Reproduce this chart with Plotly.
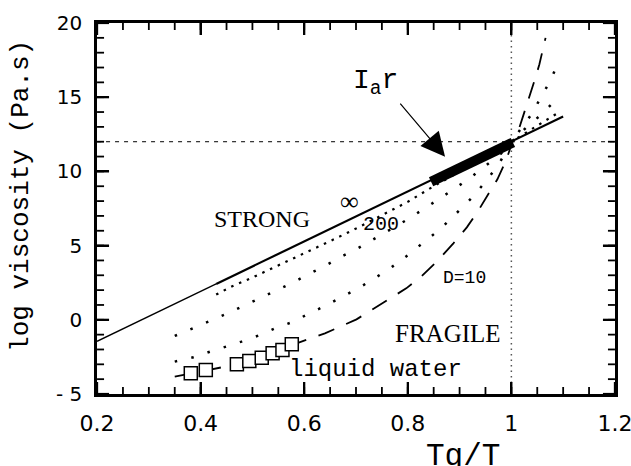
import plotly.graph_objects as go

# ---------------- data ----------------
strong_x = [0.2, 0.43, 1.1]
strong_y = [-1.45, 2.42, 13.7]

band_x = [0.845, 1.003]
band_y = [9.3, 11.95]

d200_x = [0.43, 0.46, 0.50, 0.55, 0.60, 0.65, 0.70, 0.75, 0.80, 0.85, 0.90, 0.95, 1.00, 1.04, 1.088]
d200_y = [1.7, 2.25, 2.85, 3.65, 4.45, 5.3, 6.15, 7.05, 7.95, 9.0, 9.98, 10.97, 12.0, 12.85, 13.9]

dmid_x = [0.35, 0.386, 0.418, 0.45, 0.479, 0.511, 0.544, 0.578, 0.605, 0.64, 0.669, 0.704, 0.733,
          0.766, 0.798, 0.83, 0.861, 0.893, 0.925, 0.955, 0.98, 1.0, 1.03, 1.06, 1.088]
dmid_y = [-1.09, -0.57, -0.08, 0.4, 0.88, 1.38, 1.94, 2.5, 3.02, 3.63, 4.21, 4.82, 5.42,
          6.05, 6.73, 7.45, 8.14, 8.9, 9.69, 10.48, 11.2, 12.0, 13.0, 13.9, 14.9]

dfrag_x = [0.35, 0.386, 0.418, 0.45, 0.479, 0.515, 0.544, 0.579, 0.605, 0.64, 0.669, 0.704, 0.733,
           0.766, 0.798, 0.83, 0.862, 0.894, 0.925, 0.95, 0.976, 1.0, 1.02, 1.039, 1.056, 1.075, 1.09]
dfrag_y = [-2.82, -2.53, -2.15, -1.81, -1.47, -1.02, -0.57, -0.13, 0.35, 0.93, 1.45, 2.12, 2.73,
           3.47, 4.3, 5.2, 6.1, 7.18, 8.26, 9.31, 10.5, 12.0, 12.95, 13.85, 14.93, 16.1, 17.28]

d10_x = [0.35, 0.38, 0.41, 0.47, 0.52, 0.56, 0.58, 0.602, 0.64, 0.669, 0.701, 0.73, 0.762, 0.797,
         0.827, 0.859, 0.888, 0.914, 0.936, 0.955, 0.973, 0.99, 1.0, 1.015, 1.025, 1.036, 1.045,
         1.054, 1.06, 1.066]
d10_y = [-3.83, -3.62, -3.4, -3.0, -2.5, -2.0, -1.65, -1.36, -0.91, -0.47, 0.03, 0.66, 1.33, 2.12,
         2.95, 4.03, 5.15, 6.23, 7.35, 8.41, 9.47, 10.75, 11.8, 12.9, 13.95, 15.1, 16.15,
         17.2, 18.1, 19.0]

water_x = [0.381, 0.410, 0.470, 0.494, 0.518, 0.539, 0.558, 0.576]
water_y = [-3.61, -3.38, -3.0, -2.78, -2.55, -2.26, -2.03, -1.65]

tg_ratio = 1.0
tg_log_visc = 12.0

x_range = [0.2, 1.2]
y_range = [-5, 20]
x_tick_vals = [0.2, 0.4, 0.6, 0.8, 1.0, 1.2]
x_tick_text = ["0.2", "0.4", "0.6", "0.8", "1", "1.2"]
y_tick_vals = [-5, 0, 5, 10, 15, 20]
y_tick_text = ["- 5", "0", "5", "10", "15", "20"]
x_minor_step = 0.05
y_minor_step = 1

MONO = "Liberation Mono"
SERIF = "Liberation Serif"
SANS = "DejaVu Sans"

W, H = 631, 466
ML, MR, MT, MB = 97, 16, 23, 72
EPS = 1e-4
XR = [x_range[0] - EPS, x_range[1] + EPS]
YR = [y_range[0] - EPS, y_range[1] + EPS]

fig = go.Figure()

fig.add_trace(go.Scatter(x=x_range, y=[tg_log_visc, tg_log_visc], mode="lines",
                         line=dict(color="black", width=1, dash="4px,5px"), hoverinfo="skip"))
fig.add_trace(go.Scatter(x=[tg_ratio, tg_ratio], y=y_range, mode="lines",
                         line=dict(color="#555555", width=1.5, dash="1.5px,4px"), hoverinfo="skip"))
fig.add_trace(go.Scatter(x=d10_x, y=d10_y, mode="lines",
                         line=dict(color="black", width=1.8, dash="17px,13px")))
fig.add_trace(go.Scatter(x=dfrag_x, y=dfrag_y, mode="lines",
                         line=dict(color="black", width=2.5, dash="2.5px,14.5px")))
fig.add_trace(go.Scatter(x=dmid_x, y=dmid_y, mode="lines",
                         line=dict(color="black", width=2.5, dash="2.5px,14.5px")))
fig.add_trace(go.Scatter(x=d200_x, y=d200_y, mode="lines",
                         line=dict(color="black", width=2.2, dash="2.5px,6px")))
fig.add_trace(go.Scatter(x=strong_x[:2], y=strong_y[:2], mode="lines",
                         line=dict(color="black", width=1.3)))
fig.add_trace(go.Scatter(x=strong_x[1:], y=strong_y[1:], mode="lines",
                         line=dict(color="black", width=2.2)))
fig.add_trace(go.Scatter(x=band_x, y=band_y, mode="lines",
                         line=dict(color="black", width=10)))
fig.add_trace(go.Scatter(x=water_x, y=water_y, mode="markers",
                         marker=dict(symbol="square", size=13, color="white",
                                     line=dict(color="black", width=1.5))))

# ---- inward tick marks as pixel-sized shapes anchored on the axis values ----
n_xm = int(round((x_range[1] - x_range[0]) / x_minor_step))
n_ym = int(round((y_range[1] - y_range[0]) / y_minor_step))
x_minor = [round(x_range[0] + i * x_minor_step, 4) for i in range(n_xm + 1)]
y_minor = [y_range[0] + i * y_minor_step for i in range(n_ym + 1)]

shapes = []


def add_ticks(x_vals, y_vals, length, width):
    for v in x_vals:
        for anchor, sign in ((y_range[0], 1), (y_range[1], -1)):
            shapes.append(dict(type="line", xref="x", yref="y", layer="above",
                               x0=v, x1=v, ysizemode="pixel", yanchor=anchor,
                               y0=0, y1=sign * length,
                               line=dict(color="black", width=width)))
    for v in y_vals:
        for anchor, sign in ((x_range[0], 1), (x_range[1], -1)):
            shapes.append(dict(type="line", xref="x", yref="y", layer="above",
                               y0=v, y1=v, xsizemode="pixel", xanchor=anchor,
                               x0=0, x1=sign * length,
                               line=dict(color="black", width=width)))


add_ticks(x_minor, y_minor, 7, 1.8)
add_ticks(x_tick_vals, y_tick_vals, 12, 2.2)

annotations = [
    dict(x=0.5185, y=6.79, text="STRONG", font=dict(family=SERIF, size=24, color="black")),
    dict(x=0.6865, y=7.94, text="∞", font=dict(family=SERIF, size=26, color="black")),
    dict(x=0.748, y=6.39, text="200", font=dict(family=MONO, size=20, color="black")),
    dict(x=0.910, y=2.82, text="D=10", font=dict(family=MONO, size=18, color="black")),
    dict(x=0.8776, y=-0.89, text="FRAGILE", font=dict(family=SERIF, size=25, color="black")),
    dict(x=0.7367, y=-3.38, text="liquid water", font=dict(family=MONO, size=24, color="black")),
    dict(x=0.7386, y=15.96, text="I<sub>a</sub>r", font=dict(family=MONO, size=28, color="black")),
    dict(x=0.872, y=10.99, ax=0.783, ay=14.67, axref="x", ayref="y", text="",
         showarrow=True, arrowhead=2, arrowsize=4, arrowwidth=1.2, arrowcolor="black"),
    dict(xref="paper", yref="paper", x=-0.1467, y=0.534, text="log viscosity (Pa.s)",
         textangle=-90, font=dict(family=MONO, size=26, color="black")),
    dict(xref="paper", yref="paper", x=0.7066, y=-0.169, text="Tg/T",
         font=dict(family=MONO, size=31, color="black")),
]
for a in annotations:
    a.setdefault("showarrow", False)
    a.setdefault("xanchor", "center")
    a.setdefault("yanchor", "middle")

fig.update_layout(
    annotations=annotations,
    shapes=shapes,
    width=W, height=H,
    margin=dict(l=ML, r=MR, t=MT, b=MB, pad=0, autoexpand=False),
    paper_bgcolor="white", plot_bgcolor="white",
    showlegend=False,
    xaxis=dict(
        range=XR, tickmode="array", tickvals=x_tick_vals, ticktext=x_tick_text,
        ticks="inside", ticklen=12, tickwidth=2, tickcolor="black",
        showline=True, linewidth=2.5, linecolor="black", mirror="ticks",
        showgrid=False, zeroline=False, ticklabeloverflow="allow", automargin=False,
        tickfont=dict(family=SANS, size=22, color="black"), ticklabelstandoff=8,
    ),
    yaxis=dict(
        range=YR, tickmode="array", tickvals=y_tick_vals, ticktext=y_tick_text,
        ticks="inside", ticklen=12, tickwidth=2, tickcolor="black",
        showline=True, linewidth=2.5, linecolor="black", mirror="ticks",
        showgrid=False, zeroline=False, automargin=False,
        tickfont=dict(family=SANS, size=20, color="black"), ticklabelstandoff=8,
    ),
)

fig.write_html("out.html")
